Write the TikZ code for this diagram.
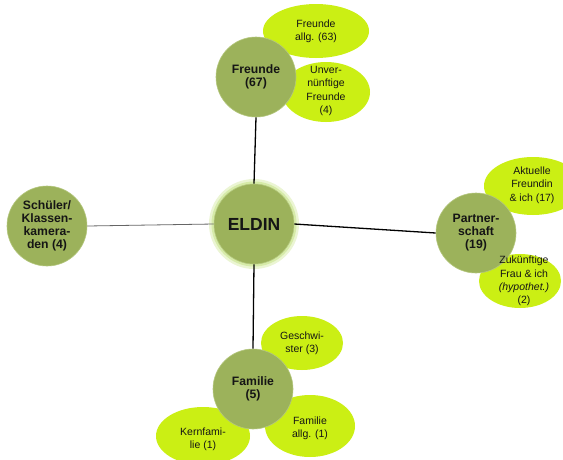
\documentclass[tikz,border=0pt]{standalone}
\usepackage{fontspec}
\setmainfont{Liberation Sans}
\usetikzlibrary{shapes.geometric}
\definecolor{olive}{HTML}{9CB25B}
\definecolor{olivedge}{HTML}{B4C77E}
\definecolor{lime}{HTML}{CBEF14}
\definecolor{halo}{HTML}{D6EBA8}
\definecolor{txt}{HTML}{151515}
\tikzset{
  hub/.style={circle, fill=olive, draw=olivedge, line width=0.6pt, minimum size=80pt, inner sep=0pt,
    align=center, font=\fontsize{12.2}{13}\selectfont\bfseries, text=txt},
  leaf/.style={ellipse, fill=lime, draw=none, inner sep=0pt, align=center,
    font=\fontsize{10.5}{13.3}\selectfont, text=txt},
  link/.style={line width=1.3pt, black},
  thinlink/.style={line width=0.8pt, black!60},
}
\begin{document}
\begin{tikzpicture}[x=1pt,y=-1pt]
\useasboundingbox (0,0) rectangle (563,459);
\fill[white] (0,0) rectangle (563,459);
% ellipses (behind circles)
\node[leaf, minimum width=106pt, minimum height=54pt] (fa) at (316,31) {};
\node[leaf, minimum width=88pt, minimum height=60pt] (uf) at (326,92) {};
\node[leaf, minimum width=98pt, minimum height=58pt] (af) at (533,186) {};
\node[leaf, minimum width=82pt, minimum height=54pt] (zf) at (520,281) {};
\node[leaf, minimum width=82pt, minimum height=54pt] (gs) at (302,343) {};
\node[leaf, minimum width=90pt, minimum height=62pt] (fl) at (310,426) {};
\node[leaf, minimum width=94pt, minimum height=58pt] (kf) at (203,436) {};
% halo
\fill[halo!50] (254,224) circle (45pt);
\fill[halo] (254,224) circle (42.5pt);
% hubs
\node[hub] (eldin) at (254,224) {};
\node[hub] (freunde) at (256,77) {};
\node[hub] (partner) at (476,233) {};
\node[hub] (schueler) at (47,226) {};
\node[hub] (familie) at (253,389) {};
% connectors
\draw[link] (eldin.north) -- (freunde.south);
\draw[link] (eldin.south) -- (familie.north);
\draw[link] (eldin.east) -- (partner.west);
\draw[thinlink] (eldin.west) -- (schueler.east);
% hub texts
\node[hub, fill=none, draw=none] at (eldin.center) {\fontsize{17.5}{18}\selectfont ELDIN};
\node[hub, fill=none, draw=none] at (freunde.center) {Freunde\\(67)};
\node[hub, fill=none, draw=none] at (partner.center) {Partner-\\schaft\\(19)};
\node[hub, fill=none, draw=none] at (schueler.center) {Schüler/\\Klassen-\\kamera-\\den (4)};
\node[hub, fill=none, draw=none] at (familie.center) {Familie\\(5)};
% leaf texts on top
\node[leaf, fill=none] at (fa.center) {Freunde\\allg. (63)};
\node[leaf, fill=none] at ([yshift=1pt]uf.center) {Unver-\\nünftige\\Freunde\\(4)};
\node[leaf, fill=none] at ([xshift=-1pt,yshift=1pt]af.center) {Aktuelle\\Freundin\\\& ich (17)};
\node[leaf, fill=none] at ([xshift=4pt]zf.center) {Zukünftige\\Frau \& ich\\\textit{(hypothet.)}\\(2)};
\node[leaf, fill=none] at (gs.center) {Geschwi-\\ster (3)};
\node[leaf, fill=none] at ([yshift=-2pt]fl.center) {Familie\\allg. (1)};
\node[leaf, fill=none] at ([yshift=-3pt]kf.center) {Kernfami-\\lie (1)};
\end{tikzpicture}
\end{document}
